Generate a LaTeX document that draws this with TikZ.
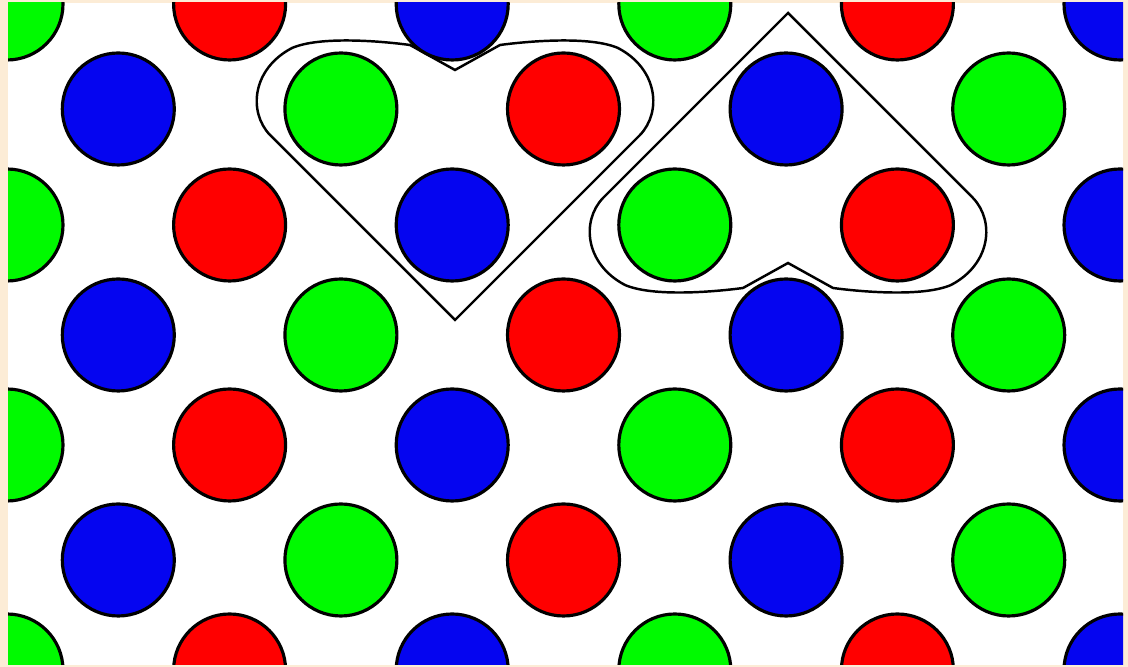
\documentclass[tikz,border=0pt]{standalone}
\definecolor{frame}{RGB}{252,236,214}
\definecolor{dotred}{RGB}{255,0,0}
\definecolor{dotgreen}{RGB}{0,250,0}
\definecolor{dotblue}{RGB}{5,5,240}
\begin{document}
\begin{tikzpicture}[dot/.style={draw=black, line width=0.9pt}, cell/.style={draw=black, line width=0.7pt}]
\fill[frame] (0,0) rectangle (11.28,6.67);
\fill[white] (0.08,0.02) rectangle (11.23,6.64);
\begin{scope}
\clip (0.08,0.02) rectangle (11.23,6.64);
\foreach \k/\c in {0/dotgreen,1/dotblue,2/dotred,3/dotgreen,4/dotblue,5/dotred,6/dotgreen,7/dotblue,8/dotred,9/dotgreen,10/dotblue}
  \foreach \j/\y in {0/6.63,1/5.58,2/4.42,3/3.32,4/2.22,5/1.07,6/-0.03} {
    \pgfmathtruncatemacro{\odd}{mod(\k+\j,2)}
    \ifnum\odd=0
      \filldraw[dot, fill=\c] ({0.07+1.113*\k},\y) circle (0.56);
    \fi
  }
\end{scope}
% heart pointing down
\draw[cell] (4.55,3.47) -- (2.70,5.32) .. controls (2.48,5.55) and (2.52,5.98) .. (2.92,6.19)
  .. controls (3.20,6.31) and (3.80,6.26) .. (4.10,6.22) -- (4.55,5.97) -- (5.00,6.22)
  .. controls (5.30,6.26) and (5.90,6.31) .. (6.18,6.19) .. controls (6.58,5.98) and (6.62,5.55) .. (6.40,5.32) -- cycle;
% heart pointing up
\draw[cell] (7.88,6.54) -- (6.03,4.69) .. controls (5.81,4.46) and (5.85,4.03) .. (6.25,3.82)
  .. controls (6.53,3.70) and (7.13,3.75) .. (7.43,3.79) -- (7.88,4.04) -- (8.33,3.79)
  .. controls (8.63,3.75) and (9.23,3.70) .. (9.51,3.82) .. controls (9.91,4.03) and (9.95,4.46) .. (9.73,4.69) -- cycle;
\end{tikzpicture}
\end{document}
